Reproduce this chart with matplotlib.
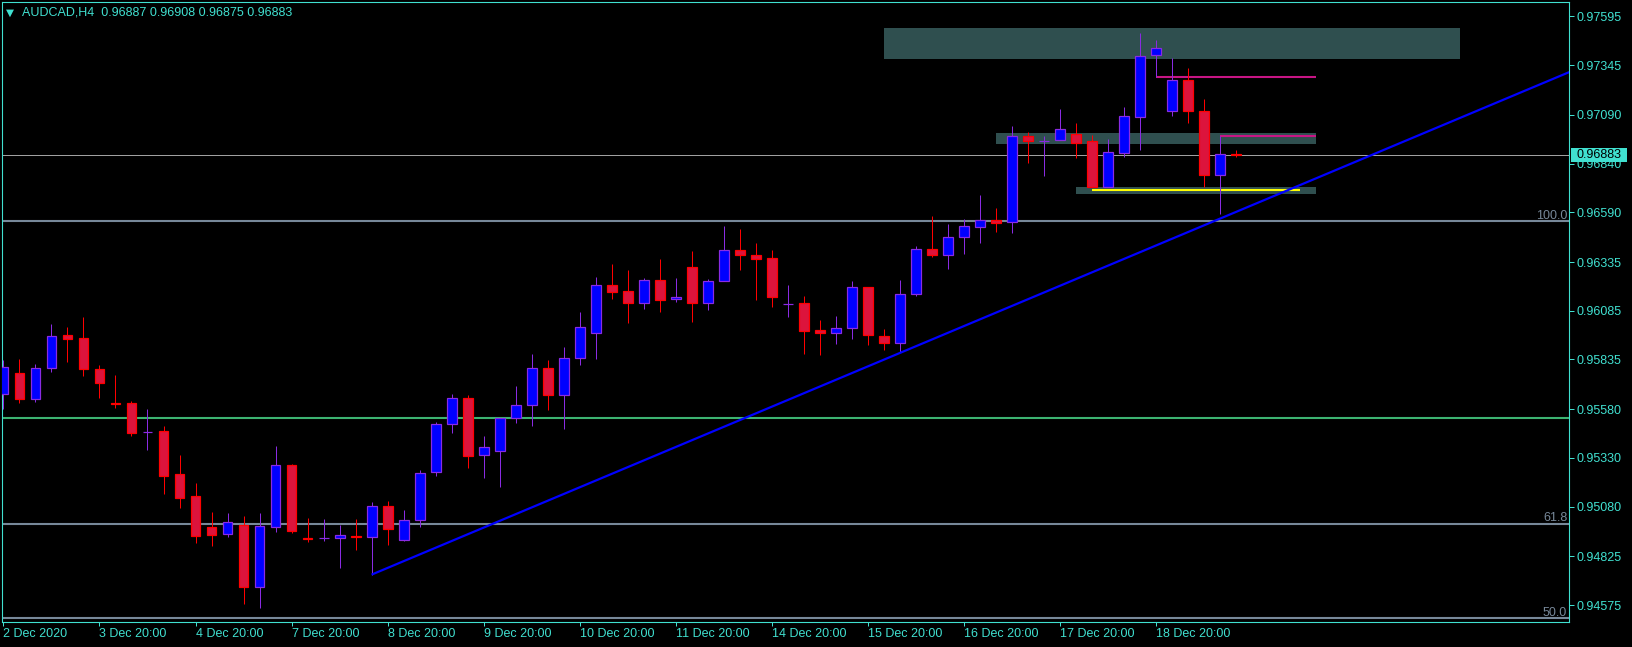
import numpy as np
import matplotlib
matplotlib.use('Agg')
import matplotlib.pyplot as plt
from matplotlib.patches import Rectangle
import matplotlib.transforms as mtransforms

# AUDCAD H4 bars (oldest first)
symbol = 'AUDCAD,H4'
opens = [0.95657, 0.95764, 0.95631, 0.95790, 0.95959, 0.95944, 0.95785, 0.95613, 0.95610, 0.95462,
         0.95467, 0.95248, 0.95133, 0.94974, 0.94938, 0.94986, 0.94666, 0.94974, 0.95292, 0.94921,
         0.94918, 0.94918, 0.94928, 0.94923, 0.95082, 0.94907, 0.95012, 0.95256, 0.95503, 0.95636,
         0.95344, 0.95364, 0.95533, 0.95600, 0.95790, 0.95655, 0.95841, 0.95970, 0.96216, 0.96185,
         0.96124, 0.96242, 0.96144, 0.96308, 0.96124, 0.96236, 0.96395, 0.96370, 0.96354, 0.96121,
         0.96124, 0.95987, 0.95970, 0.95995, 0.96206, 0.95954, 0.95918, 0.96170, 0.96401, 0.96370,
         0.96462, 0.96513, 0.96552, 0.96539, 0.96980, 0.96958, 0.96960, 0.96994, 0.96955, 0.96722,
         0.96893, 0.97081, 0.97396, 0.97109, 0.97268, 0.97109, 0.96783, 0.96887]
highs = [0.95833, 0.95838, 0.95812, 0.96017, 0.96002, 0.96053, 0.95807, 0.95756, 0.95622, 0.95581,
         0.95495, 0.95345, 0.95201, 0.95053, 0.95048, 0.95032, 0.95048, 0.95391, 0.95299, 0.95022,
         0.95017, 0.94986, 0.95017, 0.95104, 0.95109, 0.95063, 0.95268, 0.95514, 0.95658, 0.95653,
         0.95443, 0.95534, 0.95699, 0.95863, 0.95833, 0.95899, 0.96079, 0.96258, 0.96327, 0.96294,
         0.96253, 0.96351, 0.96253, 0.96390, 0.96247, 0.96520, 0.96505, 0.96433, 0.96395, 0.96216,
         0.96163, 0.96038, 0.96058, 0.96238, 0.96207, 0.95992, 0.96243, 0.96418, 0.96571, 0.96530,
         0.96555, 0.96679, 0.96611, 0.97033, 0.97001, 0.96983, 0.97120, 0.97049, 0.96987, 0.96967,
         0.97131, 0.97509, 0.97475, 0.97384, 0.97331, 0.97172, 0.96983, 0.96908]
lows = [0.95580, 0.95613, 0.95619, 0.95773, 0.95824, 0.95752, 0.95639, 0.95588, 0.95444, 0.95371,
        0.95147, 0.95075, 0.94895, 0.94880, 0.94926, 0.94582, 0.94562, 0.94952, 0.94946, 0.94900,
        0.94905, 0.94767, 0.94859, 0.94731, 0.94885, 0.94905, 0.94977, 0.95239, 0.95460, 0.95280,
        0.95229, 0.95182, 0.95511, 0.95495, 0.95576, 0.95479, 0.95807, 0.95838, 0.96146, 0.96022,
        0.96094, 0.96080, 0.96132, 0.96029, 0.96091, 0.96235, 0.96296, 0.96142, 0.96106, 0.96055,
        0.95865, 0.95858, 0.95916, 0.95942, 0.95911, 0.95884, 0.95872, 0.96161, 0.96361, 0.96301,
        0.96378, 0.96434, 0.96491, 0.96486, 0.96845, 0.96778, 0.96959, 0.96871, 0.96721, 0.96721,
        0.96873, 0.96912, 0.97286, 0.97086, 0.97050, 0.96722, 0.96583, 0.96875]
closes = [0.95795, 0.95631, 0.95790, 0.95954, 0.95942, 0.95785, 0.95716, 0.95608, 0.95460, 0.95462,
          0.95239, 0.95126, 0.94931, 0.94936, 0.95000, 0.94666, 0.94979, 0.95292, 0.94957, 0.94916,
          0.94918, 0.94933, 0.94923, 0.95082, 0.94964, 0.95010, 0.95251, 0.95503, 0.95636, 0.95342,
          0.95388, 0.95533, 0.95600, 0.95790, 0.95655, 0.95841, 0.96000, 0.96216, 0.96183, 0.96124,
          0.96242, 0.96142, 0.96154, 0.96124, 0.96236, 0.96395, 0.96370, 0.96349, 0.96154, 0.96121,
          0.95983, 0.95970, 0.95995, 0.96206, 0.95959, 0.95918, 0.96170, 0.96401, 0.96370, 0.96462,
          0.96519, 0.96552, 0.96537, 0.96980, 0.96955, 0.96958, 0.97016, 0.96948, 0.96722, 0.96898,
          0.97083, 0.97391, 0.97435, 0.97268, 0.97109, 0.96783, 0.96888, 0.96883]

date_labels = ['2 Dec 2020', '3 Dec 20:00', '4 Dec 20:00', '7 Dec 20:00', '8 Dec 20:00',
               '9 Dec 20:00', '10 Dec 20:00', '11 Dec 20:00', '14 Dec 20:00', '15 Dec 20:00',
               '16 Dec 20:00', '17 Dec 20:00', '18 Dec 20:00']
date_bars = [0, 6, 12, 18, 24, 30, 36, 42, 48, 54, 60, 66, 72]

price_ticks = [0.97595, 0.97345, 0.97090, 0.96840, 0.96590, 0.96335, 0.96085,
               0.95835, 0.95580, 0.95330, 0.95080, 0.94825, 0.94575]

bid = 0.96883
fibo_names = ['100.0', '61.8', '50.0']
fibo_prices = [0.96546, 0.94993, 0.94509]
green_level = 0.95536

# supply / demand boxes
zone_start = [55, 62, 67]
zone_end = [91, 82, 82]
zone_low = [0.97377, 0.96941, 0.96684]
zone_high = [0.97536, 0.96997, 0.96720]

yellow_bars = [68, 81]
yellow_price = 0.96705
magenta_start = [72, 76]
magenta_end = [82, 82]
magenta_price = [0.97286, 0.96982]

trend_bars = [23, 76]
trend_prices = [0.94731, 0.96557]

fg = '#40E0D0'
plt.rcParams['font.family'] = ['Liberation Sans', 'DejaVu Sans']

W, H = 1633, 647
fig = plt.figure(figsize=(W / 100, H / 100), dpi=100, facecolor='black')
ax = fig.add_axes([2.5 / W, 25 / H, 1566.8 / W, 620 / H])
ax.set_facecolor('black')

o = np.array(opens)
h = np.array(highs)
l = np.array(lows)
c = np.array(closes)
x = np.arange(len(o))
up = c >= o
lo = np.minimum(o, c)
ht = np.abs(c - o)

px = 0.72  # one pixel in points

ax.vlines(x[up], l[up], h[up], color='#8A2BE2', lw=px, zorder=3)
ax.vlines(x[~up], l[~up], h[~up], color='#FF0000', lw=px, zorder=3)
ax.bar(x[up], ht[up], bottom=lo[up], width=0.62, color='#0000FF', edgecolor='#8A2BE2',
       linewidth=px * 1.2, zorder=4)
ax.bar(x[~up], ht[~up], bottom=lo[~up], width=0.62, color='#DC143C', edgecolor='#FF0000',
       linewidth=px * 1.2, zorder=4)

ax.set_xlim(-0.06, 97.84)
ax.set_ylim(0.94488, 0.97669)

for s, e, a, b in zip(zone_start, zone_end, zone_low, zone_high):
    ax.add_patch(Rectangle((s, a), e - s, b - a, fc='#2F4F4F', ec='none', zorder=1))

ax.axhline(bid, color='#A0A0A0', lw=px, zorder=1.5)
ax.axhline(green_level, color='#3CB371', lw=1.5, zorder=1.5)
trans = mtransforms.blended_transform_factory(ax.transAxes, ax.transData)
lab_trans = mtransforms.offset_copy(trans, fig=fig, y=1.5, units='points')
for name, p in zip(fibo_names, fibo_prices):
    ax.axhline(p, color='#778899', lw=1.5, zorder=1.5)
    ax.text(0.9987, p, name, transform=lab_trans, ha='right', va='baseline',
            color='#778899', fontsize=9)

ax.hlines(yellow_price, yellow_bars[0], yellow_bars[1], color='#FFFF00', lw=1.5, zorder=2)
ax.hlines(magenta_price, magenta_start, magenta_end, color='#C71585', lw=1.5, zorder=2)

# trend line extended as a ray to the right edge
slope = (trend_prices[1] - trend_prices[0]) / (trend_bars[1] - trend_bars[0])
x_end = ax.get_xlim()[1]
ax.plot([trend_bars[0], x_end], [trend_prices[0], trend_prices[0] + slope * (x_end - trend_bars[0])],
        color='#0000FF', lw=1.6, zorder=5, solid_capstyle='butt')

# axes
for sp in ax.spines.values():
    sp.set_color(fg)
    sp.set_linewidth(px * 1.1)
ax.yaxis.tick_right()
ax.set_yticks(price_ticks)
ax.set_yticklabels([f'{p:.5f}' for p in price_ticks])
ax.tick_params(axis='y', colors=fg, direction='out', length=3.5, width=px, pad=2, labelsize=9)
ax.set_xticks(date_bars)
ax.set_xticklabels(date_labels)
for t in ax.get_xticklabels():
    t.set_ha('left')
ax.tick_params(axis='x', colors=fg, direction='out', length=3, width=px, pad=1.5, labelsize=9)

# current price box on the scale
ax.add_patch(Rectangle((1.0011, bid - 0.00036), 0.0357, 0.00072, transform=trans,
                       fc=fg, ec='none', clip_on=False, zorder=10))
ax.text(1.0043, bid, f'{bid:.5f}', transform=trans, color='black', va='center', ha='left',
        fontsize=9, zorder=11, clip_on=False)

title = f'{symbol}  {opens[-1]:.5f} {highs[-1]:.5f} {lows[-1]:.5f} {closes[-1]:.5f}'
fig.text(22 / W, 1 - 12.8 / H, title, color=fg, fontsize=9, va='center', ha='left')
fig.text(5.5 / W, 1 - 12.5 / H, '\u25bc', color=fg, fontsize=7.5, va='center', ha='left',
         family='DejaVu Sans')

fig.savefig('out.png', dpi=100, facecolor='black')
